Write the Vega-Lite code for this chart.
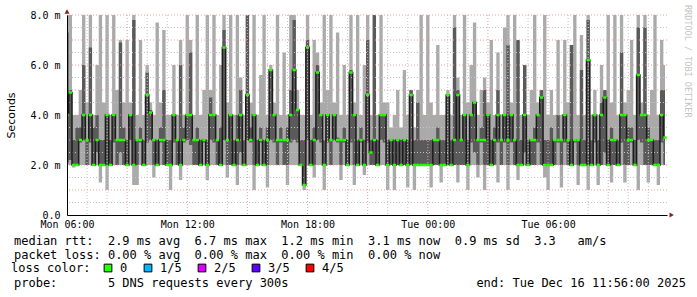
{
"$schema": "https://vega.github.io/schema/vega-lite/v6.json",
"width": 600, "height": 200,
"autosize": {"type": "none"},
"padding": {"left": 67, "top": 15, "right": 30, "bottom": 82},
"background": "white",
"config": {"view": {"stroke": null}},
"title": {"text": ["median rtt:\u00a0\u00a02.9 ms avg\u00a0\u00a06.7 ms max\u00a0\u00a01.2 ms min\u00a0\u00a03.1 ms now\u00a0\u00a00.9 ms sd\u00a0\u00a03.3\u00a0\u00a0\u00a0am/s", "packet loss: 0.00 % avg\u00a0\u00a00.00 % max\u00a0\u00a00.00 % min\u00a0\u00a00.00 % now"], "subtitle": "probe:\u00a0\u00a0\u00a0\u00a0\u00a0\u00a0\u00a05 DNS requests every 300s\u00a0\u00a0\u00a0\u00a0\u00a0\u00a0\u00a0\u00a0\u00a0\u00a0\u00a0\u00a0\u00a0\u00a0\u00a0\u00a0\u00a0\u00a0\u00a0\u00a0\u00a0\u00a0\u00a0\u00a0\u00a0\u00a0end: Tue Dec 16 11:56:00 2025", "orient": "bottom", "anchor": "start", "frame": "group", "font": "DejaVu Sans Mono", "fontSize": 12, "fontWeight": "normal", "color": "#000", "lineHeight": 14, "subtitleFont": "DejaVu Sans Mono", "subtitleFontSize": 12, "subtitleFontWeight": "normal", "subtitleColor": "#000", "subtitleLineHeight": 14, "subtitlePadding": 16, "offset": 6, "dx": -53, "dy": -44},
"data": {"values": [
{"t":"2025-12-15T06:00","lo":2.0,"q1":2.1,"q3":7.3,"hi":8,"md":4.0},
{"t":"2025-12-15T06:10","lo":2.0,"q1":2.2,"q3":5.0,"hi":8,"md":4.9},
{"t":"2025-12-15T06:20","lo":1.9,"q1":2.0,"q3":3.0,"hi":4.0,"md":2.0},
{"t":"2025-12-15T06:30","lo":2.0,"q1":2.0,"q3":3.5,"hi":4.0,"md":2.0},
{"t":"2025-12-15T06:40","lo":2.0,"q1":2.9,"q3":3.5,"hi":5.0,"md":3.0},
{"t":"2025-12-15T06:50","lo":2.0,"q1":3.0,"q3":6.0,"hi":8,"md":4.0},
{"t":"2025-12-15T07:00","lo":2.0,"q1":2.0,"q3":3.0,"hi":4.5,"md":3.0},
{"t":"2025-12-15T07:10","lo":2.0,"q1":2.9,"q3":6.7,"hi":8,"md":4.0},
{"t":"2025-12-15T07:20","lo":2.0,"q1":2.0,"q3":3.5,"hi":4.0,"md":2.0},
{"t":"2025-12-15T07:30","lo":2.0,"q1":2.5,"q3":4.0,"hi":6.0,"md":3.0},
{"t":"2025-12-15T07:40","lo":1.3,"q1":2.0,"q3":3.0,"hi":8,"md":2.0},
{"t":"2025-12-15T07:50","lo":2.0,"q1":2.0,"q3":3.0,"hi":4.5,"md":2.0},
{"t":"2025-12-15T08:00","lo":1.0,"q1":2.0,"q3":4.0,"hi":8,"md":4.0},
{"t":"2025-12-15T08:10","lo":2.0,"q1":2.0,"q3":3.0,"hi":4.0,"md":2.0},
{"t":"2025-12-15T08:20","lo":2.0,"q1":2.9,"q3":4.0,"hi":8,"md":4.0},
{"t":"2025-12-15T08:30","lo":2.0,"q1":2.0,"q3":3.0,"hi":5.0,"md":3.0},
{"t":"2025-12-15T08:40","lo":2.0,"q1":2.5,"q3":6.9,"hi":7.0,"md":3.0},
{"t":"2025-12-15T08:50","lo":2.0,"q1":2.0,"q3":3.5,"hi":4.5,"md":3.0},
{"t":"2025-12-15T09:00","lo":2.0,"q1":2.0,"q3":3.0,"hi":7.0,"md":2.0},
{"t":"2025-12-15T09:10","lo":2.0,"q1":3.0,"q3":4.0,"hi":4.5,"md":4.0},
{"t":"2025-12-15T09:20","lo":1.2,"q1":2.0,"q3":7.8,"hi":8,"md":2.0},
{"t":"2025-12-15T09:30","lo":1.2,"q1":2.0,"q3":3.0,"hi":4.0,"md":3.0},
{"t":"2025-12-15T09:40","lo":2.0,"q1":2.9,"q3":3.5,"hi":7.0,"md":3.0},
{"t":"2025-12-15T09:50","lo":2.0,"q1":2.0,"q3":3.0,"hi":4.0,"md":2.0},
{"t":"2025-12-15T10:00","lo":2.0,"q1":2.9,"q3":5.7,"hi":6.0,"md":4.8},
{"t":"2025-12-15T10:10","lo":2.0,"q1":3.0,"q3":4.2,"hi":4.5,"md":4.1},
{"t":"2025-12-15T10:20","lo":1.5,"q1":2.0,"q3":3.0,"hi":4.0,"md":3.0},
{"t":"2025-12-15T10:30","lo":2.0,"q1":2.0,"q3":3.0,"hi":7.7,"md":2.0},
{"t":"2025-12-15T10:40","lo":2.0,"q1":2.9,"q3":3.5,"hi":4.5,"md":3.0},
{"t":"2025-12-15T10:50","lo":2.0,"q1":2.0,"q3":5.0,"hi":7.4,"md":3.0},
{"t":"2025-12-15T11:00","lo":2.0,"q1":2.0,"q3":3.0,"hi":4.0,"md":2.0},
{"t":"2025-12-15T11:10","lo":1.0,"q1":2.0,"q3":3.0,"hi":4.0,"md":2.0},
{"t":"2025-12-15T11:20","lo":2.0,"q1":2.9,"q3":4.0,"hi":6.0,"md":4.0},
{"t":"2025-12-15T11:30","lo":2.0,"q1":2.0,"q3":3.0,"hi":4.0,"md":3.0},
{"t":"2025-12-15T11:40","lo":1.4,"q1":2.0,"q3":6.0,"hi":7.0,"md":2.0},
{"t":"2025-12-15T11:50","lo":2.0,"q1":2.9,"q3":3.5,"hi":4.0,"md":3.0},
{"t":"2025-12-15T12:00","lo":2.0,"q1":3.0,"q3":4.0,"hi":8,"md":4.0},
{"t":"2025-12-15T12:10","lo":2.0,"q1":2.8,"q3":6.5,"hi":7.0,"md":4.0},
{"t":"2025-12-15T12:20","lo":2.0,"q1":2.0,"q3":3.0,"hi":4.0,"md":3.0},
{"t":"2025-12-15T12:30","lo":2.0,"q1":2.0,"q3":3.5,"hi":8,"md":3.0},
{"t":"2025-12-15T12:40","lo":2.0,"q1":2.0,"q3":3.0,"hi":4.0,"md":2.0},
{"t":"2025-12-15T12:50","lo":2.0,"q1":2.9,"q3":3.0,"hi":5.0,"md":3.0},
{"t":"2025-12-15T13:00","lo":1.4,"q1":2.0,"q3":3.0,"hi":8,"md":2.0},
{"t":"2025-12-15T13:10","lo":2.0,"q1":3.0,"q3":4.7,"hi":5.0,"md":4.0},
{"t":"2025-12-15T13:20","lo":2.0,"q1":2.9,"q3":4.0,"hi":8,"md":4.0},
{"t":"2025-12-15T13:30","lo":2.0,"q1":2.0,"q3":3.0,"hi":4.0,"md":3.0},
{"t":"2025-12-15T13:40","lo":2.0,"q1":2.0,"q3":3.5,"hi":6.0,"md":2.0},
{"t":"2025-12-15T13:50","lo":2.0,"q1":3.0,"q3":7.4,"hi":8,"md":6.7},
{"t":"2025-12-15T14:00","lo":1.5,"q1":2.0,"q3":3.0,"hi":4.5,"md":3.0},
{"t":"2025-12-15T14:10","lo":2.0,"q1":2.0,"q3":4.0,"hi":8,"md":4.0},
{"t":"2025-12-15T14:20","lo":2.0,"q1":2.0,"q3":3.0,"hi":4.0,"md":2.0},
{"t":"2025-12-15T14:30","lo":1.2,"q1":2.0,"q3":4.0,"hi":8,"md":3.0},
{"t":"2025-12-15T14:40","lo":2.0,"q1":2.5,"q3":5.0,"hi":5.5,"md":4.0},
{"t":"2025-12-15T14:50","lo":2.0,"q1":2.0,"q3":3.0,"hi":4.0,"md":2.0},
{"t":"2025-12-15T15:00","lo":2.0,"q1":3.0,"q3":8,"hi":8,"md":4.8},
{"t":"2025-12-15T15:10","lo":2.0,"q1":2.9,"q3":3.5,"hi":4.5,"md":3.0},
{"t":"2025-12-15T15:20","lo":1.0,"q1":2.0,"q3":4.0,"hi":8,"md":4.0},
{"t":"2025-12-15T15:30","lo":2.0,"q1":2.0,"q3":3.0,"hi":4.0,"md":2.0},
{"t":"2025-12-15T15:40","lo":2.0,"q1":2.9,"q3":3.5,"hi":5.6,"md":3.0},
{"t":"2025-12-15T15:50","lo":2.0,"q1":2.0,"q3":3.0,"hi":8,"md":2.0},
{"t":"2025-12-15T16:00","lo":1.1,"q1":2.0,"q3":3.5,"hi":4.0,"md":3.0},
{"t":"2025-12-15T16:10","lo":2.0,"q1":3.0,"q3":5.8,"hi":6.0,"md":5.8},
{"t":"2025-12-15T16:20","lo":2.0,"q1":2.9,"q3":4.0,"hi":4.5,"md":4.0},
{"t":"2025-12-15T16:30","lo":2.0,"q1":2.0,"q3":3.0,"hi":8,"md":3.0},
{"t":"2025-12-15T16:40","lo":2.0,"q1":2.9,"q3":3.5,"hi":4.0,"md":3.0},
{"t":"2025-12-15T16:50","lo":2.0,"q1":2.0,"q3":3.0,"hi":6.5,"md":3.0},
{"t":"2025-12-15T17:00","lo":1.2,"q1":2.0,"q3":3.5,"hi":4.0,"md":3.0},
{"t":"2025-12-15T17:10","lo":2.0,"q1":2.9,"q3":5.0,"hi":8,"md":4.0},
{"t":"2025-12-15T17:20","lo":2.0,"q1":3.0,"q3":7.8,"hi":8,"md":5.8},
{"t":"2025-12-15T17:30","lo":2.0,"q1":2.9,"q3":4.2,"hi":5.0,"md":4.2},
{"t":"2025-12-15T17:40","lo":2.0,"q1":2.0,"q3":3.0,"hi":4.0,"md":2.0},
{"t":"2025-12-15T17:50","lo":1.0,"q1":1.2,"q3":3.0,"hi":4.0,"md":1.2},
{"t":"2025-12-15T18:00","lo":2.0,"q1":3.0,"q3":7.0,"hi":8,"md":6.7},
{"t":"2025-12-15T18:10","lo":2.0,"q1":2.0,"q3":3.0,"hi":4.0,"md":2.0},
{"t":"2025-12-15T18:20","lo":1.5,"q1":2.0,"q3":3.5,"hi":7.0,"md":3.0},
{"t":"2025-12-15T18:30","lo":2.0,"q1":3.0,"q3":6.0,"hi":6.5,"md":5.7},
{"t":"2025-12-15T18:40","lo":2.0,"q1":2.9,"q3":4.0,"hi":4.5,"md":4.0},
{"t":"2025-12-15T18:50","lo":1.0,"q1":2.0,"q3":3.0,"hi":8,"md":2.0},
{"t":"2025-12-15T19:00","lo":2.0,"q1":2.9,"q3":4.0,"hi":5.0,"md":4.0},
{"t":"2025-12-15T19:10","lo":2.0,"q1":2.0,"q3":3.0,"hi":8,"md":3.0},
{"t":"2025-12-15T19:20","lo":2.0,"q1":3.0,"q3":4.0,"hi":4.5,"md":4.0},
{"t":"2025-12-15T19:30","lo":2.0,"q1":2.9,"q3":3.1,"hi":7.3,"md":3.0},
{"t":"2025-12-15T19:40","lo":1.4,"q1":2.0,"q3":3.0,"hi":4.0,"md":3.0},
{"t":"2025-12-15T19:50","lo":2.0,"q1":2.9,"q3":3.5,"hi":6.0,"md":3.0},
{"t":"2025-12-15T20:00","lo":2.0,"q1":2.0,"q3":3.0,"hi":4.0,"md":2.0},
{"t":"2025-12-15T20:10","lo":2.0,"q1":2.9,"q3":5.8,"hi":8,"md":5.7},
{"t":"2025-12-15T20:20","lo":1.2,"q1":2.0,"q3":4.0,"hi":4.5,"md":4.0},
{"t":"2025-12-15T20:30","lo":2.0,"q1":2.0,"q3":3.0,"hi":8,"md":2.0},
{"t":"2025-12-15T20:40","lo":2.0,"q1":2.9,"q3":3.5,"hi":4.0,"md":3.0},
{"t":"2025-12-15T20:50","lo":1.6,"q1":2.0,"q3":3.0,"hi":6.0,"md":2.0},
{"t":"2025-12-15T21:00","lo":2.0,"q1":2.9,"q3":7.0,"hi":8,"md":4.8},
{"t":"2025-12-15T21:10","lo":2.0,"q1":2.0,"q3":3.0,"hi":4.0,"md":2.5},
{"t":"2025-12-15T21:20","lo":2.0,"q1":2.0,"q3":8,"hi":8,"md":3.0},
{"t":"2025-12-15T21:30","lo":2.0,"q1":2.0,"q3":3.0,"hi":4.0,"md":2.0},
{"t":"2025-12-15T21:40","lo":2.0,"q1":3.0,"q3":4.0,"hi":8,"md":4.0},
{"t":"2025-12-15T21:50","lo":2.0,"q1":2.9,"q3":4.0,"hi":4.5,"md":4.0},
{"t":"2025-12-15T22:00","lo":1.0,"q1":2.0,"q3":3.0,"hi":4.5,"md":2.0},
{"t":"2025-12-15T22:10","lo":2.0,"q1":2.0,"q3":3.0,"hi":3.5,"md":3.0},
{"t":"2025-12-15T22:20","lo":1.0,"q1":2.0,"q3":3.0,"hi":4.0,"md":2.0},
{"t":"2025-12-15T22:30","lo":2.0,"q1":2.0,"q3":3.0,"hi":5.0,"md":3.0},
{"t":"2025-12-15T22:40","lo":2.0,"q1":2.0,"q3":3.0,"hi":3.5,"md":2.0},
{"t":"2025-12-15T22:50","lo":2.0,"q1":2.0,"q3":3.0,"hi":5.8,"md":3.0},
{"t":"2025-12-15T23:00","lo":1.1,"q1":2.0,"q3":3.0,"hi":4.0,"md":2.0},
{"t":"2025-12-15T23:10","lo":2.0,"q1":2.0,"q3":5.0,"hi":5.0,"md":4.8},
{"t":"2025-12-15T23:20","lo":1.0,"q1":2.0,"q3":3.0,"hi":3.5,"md":2.0},
{"t":"2025-12-15T23:30","lo":2.0,"q1":2.0,"q3":4.5,"hi":5.0,"md":2.0},
{"t":"2025-12-15T23:40","lo":2.0,"q1":2.0,"q3":3.0,"hi":8,"md":2.0},
{"t":"2025-12-15T23:50","lo":2.0,"q1":2.0,"q3":3.0,"hi":4.0,"md":2.0},
{"t":"2025-12-16T00:00","lo":2.0,"q1":2.0,"q3":3.0,"hi":8,"md":2.0},
{"t":"2025-12-16T00:10","lo":1.1,"q1":2.0,"q3":3.0,"hi":4.5,"md":2.0},
{"t":"2025-12-16T00:20","lo":2.0,"q1":2.0,"q3":3.0,"hi":4.0,"md":3.0},
{"t":"2025-12-16T00:30","lo":2.0,"q1":2.0,"q3":3.5,"hi":6.8,"md":3.0},
{"t":"2025-12-16T00:40","lo":1.3,"q1":2.0,"q3":3.0,"hi":4.0,"md":2.0},
{"t":"2025-12-16T00:50","lo":2.0,"q1":2.0,"q3":3.0,"hi":4.0,"md":2.0},
{"t":"2025-12-16T01:00","lo":2.0,"q1":2.0,"q3":4.8,"hi":5.0,"md":4.8},
{"t":"2025-12-16T01:10","lo":2.0,"q1":2.0,"q3":3.0,"hi":4.0,"md":2.0},
{"t":"2025-12-16T01:20","lo":2.0,"q1":2.0,"q3":7.5,"hi":8,"md":3.0},
{"t":"2025-12-16T01:30","lo":1.3,"q1":2.0,"q3":5.0,"hi":5.5,"md":4.8},
{"t":"2025-12-16T01:40","lo":2.0,"q1":2.0,"q3":3.0,"hi":4.0,"md":3.0},
{"t":"2025-12-16T01:50","lo":2.0,"q1":2.0,"q3":4.0,"hi":8,"md":4.0},
{"t":"2025-12-16T02:00","lo":1.0,"q1":2.0,"q3":3.0,"hi":4.5,"md":2.0},
{"t":"2025-12-16T02:10","lo":2.0,"q1":2.9,"q3":4.0,"hi":6.0,"md":4.0},
{"t":"2025-12-16T02:20","lo":2.0,"q1":2.5,"q3":4.5,"hi":7.7,"md":4.5},
{"t":"2025-12-16T02:30","lo":1.5,"q1":2.0,"q3":3.0,"hi":4.0,"md":3.0},
{"t":"2025-12-16T02:40","lo":2.0,"q1":2.9,"q3":3.5,"hi":5.0,"md":3.0},
{"t":"2025-12-16T02:50","lo":1.0,"q1":2.0,"q3":5.0,"hi":5.5,"md":3.0},
{"t":"2025-12-16T03:00","lo":2.0,"q1":2.0,"q3":4.0,"hi":4.5,"md":4.0},
{"t":"2025-12-16T03:10","lo":2.0,"q1":2.0,"q3":3.0,"hi":7.0,"md":2.0},
{"t":"2025-12-16T03:20","lo":2.0,"q1":2.0,"q3":3.5,"hi":4.0,"md":3.0},
{"t":"2025-12-16T03:30","lo":1.3,"q1":2.9,"q3":5.0,"hi":6.5,"md":4.0},
{"t":"2025-12-16T03:40","lo":2.0,"q1":2.0,"q3":3.0,"hi":4.0,"md":3.0},
{"t":"2025-12-16T03:50","lo":2.0,"q1":2.9,"q3":4.0,"hi":7.5,"md":4.0},
{"t":"2025-12-16T04:00","lo":1.0,"q1":2.0,"q3":6.8,"hi":8,"md":3.0},
{"t":"2025-12-16T04:10","lo":2.0,"q1":2.9,"q3":4.0,"hi":4.5,"md":4.0},
{"t":"2025-12-16T04:20","lo":2.0,"q1":2.0,"q3":3.0,"hi":8,"md":3.0},
{"t":"2025-12-16T04:30","lo":1.4,"q1":2.0,"q3":7.0,"hi":7.0,"md":2.0},
{"t":"2025-12-16T04:40","lo":2.0,"q1":2.0,"q3":3.0,"hi":4.0,"md":2.0},
{"t":"2025-12-16T04:50","lo":2.0,"q1":2.5,"q3":6.0,"hi":6.0,"md":4.0},
{"t":"2025-12-16T05:00","lo":2.0,"q1":2.0,"q3":3.0,"hi":4.0,"md":2.0},
{"t":"2025-12-16T05:10","lo":2.0,"q1":2.0,"q3":3.0,"hi":5.0,"md":3.0},
{"t":"2025-12-16T05:20","lo":2.0,"q1":2.0,"q3":3.5,"hi":8,"md":3.0},
{"t":"2025-12-16T05:30","lo":2.0,"q1":2.9,"q3":4.0,"hi":4.5,"md":4.0},
{"t":"2025-12-16T05:40","lo":2.0,"q1":2.0,"q3":5.0,"hi":5.0,"md":4.7},
{"t":"2025-12-16T05:50","lo":1.5,"q1":2.0,"q3":3.0,"hi":8,"md":2.0},
{"t":"2025-12-16T06:00","lo":1.0,"q1":2.0,"q3":3.0,"hi":4.0,"md":2.0},
{"t":"2025-12-16T06:10","lo":2.0,"q1":2.0,"q3":3.5,"hi":5.0,"md":2.0},
{"t":"2025-12-16T06:20","lo":2.0,"q1":2.0,"q3":3.0,"hi":4.0,"md":3.0},
{"t":"2025-12-16T06:30","lo":2.0,"q1":2.9,"q3":4.0,"hi":7.0,"md":3.0},
{"t":"2025-12-16T06:40","lo":1.1,"q1":2.0,"q3":3.0,"hi":4.0,"md":3.0},
{"t":"2025-12-16T06:50","lo":2.0,"q1":2.9,"q3":4.0,"hi":7.0,"md":4.0},
{"t":"2025-12-16T07:00","lo":2.0,"q1":2.0,"q3":3.0,"hi":4.5,"md":3.0},
{"t":"2025-12-16T07:10","lo":2.0,"q1":2.0,"q3":6.8,"hi":6.8,"md":2.0},
{"t":"2025-12-16T07:20","lo":2.0,"q1":2.9,"q3":3.0,"hi":8,"md":3.0},
{"t":"2025-12-16T07:30","lo":1.2,"q1":2.0,"q3":3.0,"hi":4.0,"md":3.0},
{"t":"2025-12-16T07:40","lo":2.0,"q1":2.0,"q3":5.8,"hi":7.2,"md":2.0},
{"t":"2025-12-16T07:50","lo":2.0,"q1":2.0,"q3":3.0,"hi":4.0,"md":2.0},
{"t":"2025-12-16T08:00","lo":1.0,"q1":2.0,"q3":7.8,"hi":8,"md":6.2},
{"t":"2025-12-16T08:10","lo":2.0,"q1":2.0,"q3":3.0,"hi":4.0,"md":2.0},
{"t":"2025-12-16T08:20","lo":2.0,"q1":2.9,"q3":4.0,"hi":5.0,"md":4.0},
{"t":"2025-12-16T08:30","lo":1.2,"q1":2.0,"q3":3.0,"hi":4.0,"md":2.0},
{"t":"2025-12-16T08:40","lo":2.0,"q1":2.0,"q3":4.5,"hi":6.0,"md":4.0},
{"t":"2025-12-16T08:50","lo":2.0,"q1":2.5,"q3":5.0,"hi":5.0,"md":4.7},
{"t":"2025-12-16T09:00","lo":2.0,"q1":2.0,"q3":3.0,"hi":8,"md":2.0},
{"t":"2025-12-16T09:10","lo":1.3,"q1":2.0,"q3":3.5,"hi":4.5,"md":3.0},
{"t":"2025-12-16T09:20","lo":2.0,"q1":2.0,"q3":3.0,"hi":8,"md":3.0},
{"t":"2025-12-16T09:30","lo":2.0,"q1":2.0,"q3":3.0,"hi":4.0,"md":2.0},
{"t":"2025-12-16T09:40","lo":2.0,"q1":2.9,"q3":6.5,"hi":8,"md":4.0},
{"t":"2025-12-16T09:50","lo":1.3,"q1":2.0,"q3":4.0,"hi":4.5,"md":4.0},
{"t":"2025-12-16T10:00","lo":2.0,"q1":2.0,"q3":3.5,"hi":5.0,"md":3.0},
{"t":"2025-12-16T10:10","lo":2.0,"q1":2.9,"q3":3.5,"hi":7.0,"md":3.0},
{"t":"2025-12-16T10:20","lo":2.0,"q1":2.0,"q3":3.0,"hi":4.0,"md":2.0},
{"t":"2025-12-16T10:30","lo":1.0,"q1":3.0,"q3":7.5,"hi":8,"md":5.6},
{"t":"2025-12-16T10:40","lo":2.0,"q1":2.9,"q3":4.0,"hi":4.5,"md":4.0},
{"t":"2025-12-16T10:50","lo":2.0,"q1":2.0,"q3":7.5,"hi":8,"md":4.0},
{"t":"2025-12-16T11:00","lo":1.3,"q1":2.0,"q3":3.5,"hi":4.0,"md":3.0},
{"t":"2025-12-16T11:10","lo":2.0,"q1":2.0,"q3":3.0,"hi":5.0,"md":3.0},
{"t":"2025-12-16T11:20","lo":2.0,"q1":2.0,"q3":3.0,"hi":8,"md":2.0},
{"t":"2025-12-16T11:30","lo":1.2,"q1":2.0,"q3":3.0,"hi":4.0,"md":2.0},
{"t":"2025-12-16T11:40","lo":2.0,"q1":2.9,"q3":5.0,"hi":7.0,"md":4.0},
{"t":"2025-12-16T11:50","lo":2.0,"q1":2.0,"q3":5.0,"hi":6.0,"md":3.1}
]},
"layer": [
{"mark": {"type": "area", "interpolate": "step", "color": "#aaaaaa", "clip": true},
 "encoding": {
  "x": {"field": "t", "type": "temporal", "title": null,
   "scale": {"domain": [{"year": 2025, "month": 12, "date": 15, "hours": 6}, {"year": 2025, "month": 12, "date": 16, "hours": 11, "minutes": 56}]},
   "axis": {"tickCount": 31, "labelExpr": "hours(datum.value) % 6 === 0 && minutes(datum.value) === 0 ? timeFormat(datum.value, '%a %H:%M') : ''", "labelFont": "DejaVu Sans Mono", "labelFontSize": 10, "labelColor": "#000", "labelPadding": 4, "labelOverlap": false, "labelFlush": false, "ticks": false, "domainColor": "#000", "domainWidth": 1, "grid": false, "zindex": 1}},
  "y": {"field": "lo", "type": "quantitative", "title": "Seconds",
   "scale": {"domain": [0, 8], "nice": false},
   "axis": {"values": [0, 1, 2, 3, 4, 5, 6, 7, 8], "labelExpr": "datum.value === 0 ? '0.0\u00a0\u00a0' : format(datum.value, '.1f') + ' m'", "labelFont": "DejaVu Sans Mono", "labelFontSize": 10, "labelColor": "#000", "labelPadding": 7, "labelOverlap": false, "ticks": false, "domainColor": "#000", "grid": false, "titleFont": "DejaVu Sans", "titleFontSize": 11, "titleFontWeight": "normal", "titleColor": "#000", "titleX": -56, "titleY": 100, "titleAngle": -90, "titleAlign": "center", "titleBaseline": "middle", "zindex": 1}},
  "y2": {"field": "hi"}}},
{"mark": {"type": "area", "interpolate": "step", "color": "#5a5a5a", "clip": true},
 "encoding": {"x": {"field": "t", "type": "temporal"}, "y": {"field": "q1", "type": "quantitative", "title": "Seconds"}, "y2": {"field": "q3"}}},
{"data": {"values": [{"g": 0.5}, {"g": 1.5}, {"g": 2.5}, {"g": 3.5}, {"g": 4.5}, {"g": 5.5}, {"g": 6.5}, {"g": 7.5}]},
 "mark": {"type": "rule", "color": "#c4c4c4", "strokeDash": [1, 2], "strokeWidth": 1},
 "encoding": {"y": {"field": "g", "type": "quantitative", "title": "Seconds"}}},
{"data": {"values": [{"t": "2025-12-15T07:00"}, {"t": "2025-12-15T08:00"}, {"t": "2025-12-15T10:00"}, {"t": "2025-12-15T11:00"}, {"t": "2025-12-15T13:00"}, {"t": "2025-12-15T14:00"}, {"t": "2025-12-15T16:00"}, {"t": "2025-12-15T17:00"}, {"t": "2025-12-15T19:00"}, {"t": "2025-12-15T20:00"}, {"t": "2025-12-15T22:00"}, {"t": "2025-12-15T23:00"}, {"t": "2025-12-16T01:00"}, {"t": "2025-12-16T02:00"}, {"t": "2025-12-16T04:00"}, {"t": "2025-12-16T05:00"}, {"t": "2025-12-16T07:00"}, {"t": "2025-12-16T08:00"}, {"t": "2025-12-16T10:00"}, {"t": "2025-12-16T11:00"}]},
 "mark": {"type": "rule", "color": "#c4c4c4", "strokeDash": [1, 2], "strokeWidth": 1},
 "encoding": {"x": {"field": "t", "type": "temporal"}}},
{"data": {"values": [{"g": 1}, {"g": 2}, {"g": 3}, {"g": 4}, {"g": 5}, {"g": 6}, {"g": 7}, {"g": 8}]},
 "mark": {"type": "rule", "color": "#e4a0a0", "strokeDash": [1, 2], "strokeWidth": 1},
 "encoding": {"y": {"field": "g", "type": "quantitative", "title": "Seconds"}}},
{"data": {"values": [{"t": "2025-12-15T09:00"}, {"t": "2025-12-15T12:00"}, {"t": "2025-12-15T15:00"}, {"t": "2025-12-15T18:00"}, {"t": "2025-12-15T21:00"}, {"t": "2025-12-16T00:00"}, {"t": "2025-12-16T03:00"}, {"t": "2025-12-16T06:00"}, {"t": "2025-12-16T09:00"}]},
 "mark": {"type": "rule", "color": "#e4a0a0", "strokeDash": [1, 2], "strokeWidth": 1},
 "encoding": {"x": {"field": "t", "type": "temporal"}}},
{"mark": {"type": "line", "interpolate": "step", "color": "#1c1c1c", "strokeWidth": 1.5, "clip": true},
 "encoding": {"x": {"field": "t", "type": "temporal"}, "y": {"field": "md", "type": "quantitative", "title": "Seconds"}}},
{"mark": {"type": "tick", "orient": "horizontal", "thickness": 2.5, "size": 3.4, "color": "#26ff00", "opacity": 1, "clip": true},
 "encoding": {"x": {"field": "t", "type": "temporal"}, "y": {"field": "md", "type": "quantitative", "title": "Seconds"}}},
{"data": {"values": [{"loss": "0"}, {"loss": "1/5"}, {"loss": "2/5"}, {"loss": "3/5"}, {"loss": "4/5"}]},
 "mark": {"type": "square", "opacity": 0},
 "encoding": {"color": {"field": "loss", "type": "nominal",
   "scale": {"domain": ["0", "1/5", "2/5", "3/5", "4/5"], "range": ["#26ff00", "#00b8ff", "#dd00ff", "#5e00ff", "#ff0000"]},
   "legend": {"title": "loss color:", "orient": "none", "legendX": -56, "legendY": 247, "direction": "horizontal", "titleOrient": "left", "titleFont": "DejaVu Sans Mono", "titleFontSize": 12, "titleFontWeight": "normal", "titleColor": "#000", "titlePadding": 11, "labelFont": "DejaVu Sans Mono", "labelFontSize": 12, "labelColor": "#000", "labelOffset": 6, "columnPadding": 14, "symbolType": "square", "symbolSize": 60, "symbolStrokeColor": "#000", "symbolStrokeWidth": 1, "symbolOpacity": 1, "padding": 0}}}},
{"data": {"values": [{"t": "2025-12-15T06:00", "v": 8.14}]},
 "mark": {"type": "point", "shape": "triangle-up", "filled": true, "color": "#8b1d1d", "size": 25, "opacity": 1, "clip": false},
 "encoding": {"x": {"field": "t", "type": "temporal"}, "y": {"field": "v", "type": "quantitative"}}},
{"data": {"values": [{"t": "2025-12-16T12:10", "v": 0}]},
 "mark": {"type": "point", "shape": "triangle-right", "filled": true, "color": "#8b1d1d", "size": 25, "opacity": 1, "clip": false},
 "encoding": {"x": {"field": "t", "type": "temporal"}, "y": {"field": "v", "type": "quantitative"}}},
{"data": {"values": [{"t": "2025-12-16T12:59", "v": 8.4, "s": "RRDTOOL / TOBI OETIKER"}]},
 "mark": {"type": "text", "angle": 90, "align": "left", "baseline": "middle", "font": "DejaVu Sans Mono", "fontSize": 8.5, "color": "#c4c4c4", "clip": false},
 "encoding": {"x": {"field": "t", "type": "temporal"}, "y": {"field": "v", "type": "quantitative"}, "text": {"field": "s"}}}
]
}
